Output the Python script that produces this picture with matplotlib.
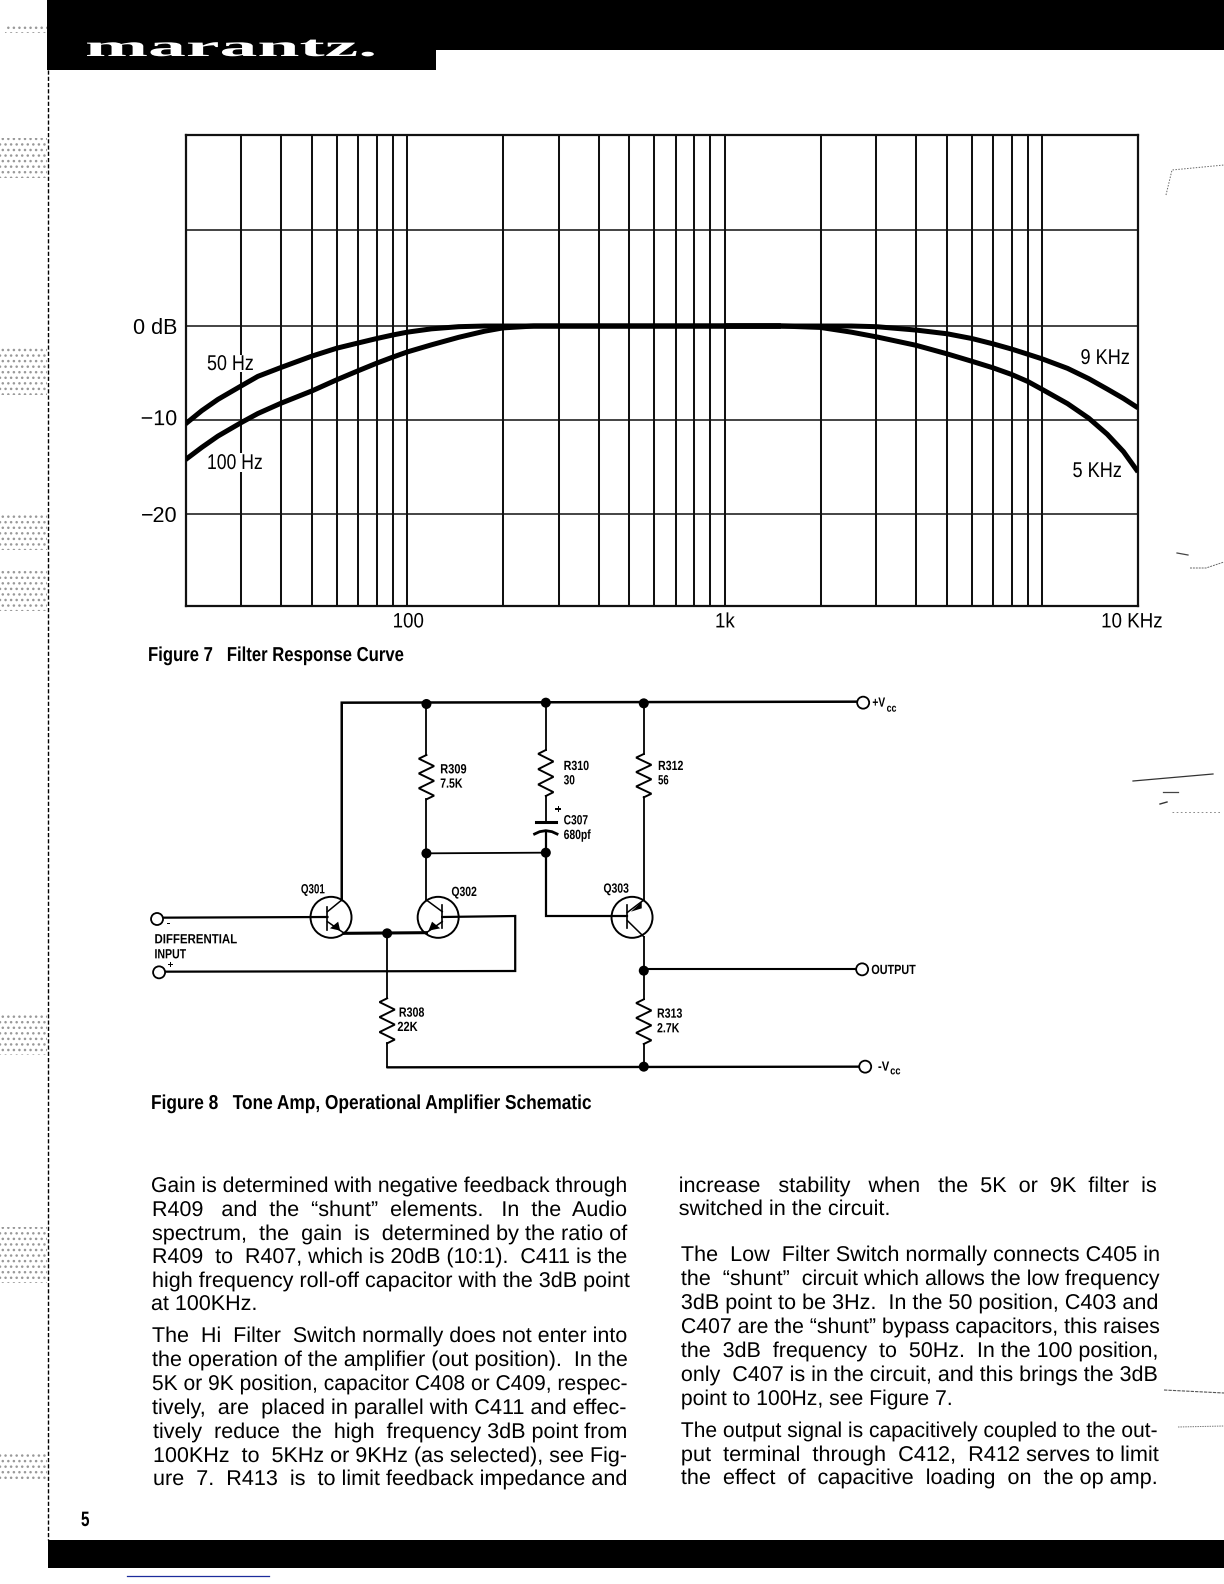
import matplotlib
matplotlib.use("Agg")
import matplotlib.pyplot as plt
from matplotlib.patches import Rectangle, Ellipse, Polygon
from matplotlib.patheffects import AbstractPathEffect
from matplotlib.transforms import Affine2D

W, H = 1224, 1584
BODY = "Liberation Sans"

# ---------- chart data ----------
freq_low = [20, 22.5, 25.3, 30, 33.8, 40, 50, 60, 70, 80, 90, 100, 119, 145, 175, 200, 250, 300, 500, 1000, 1500]
db_50hz = [-10.4, -9.0, -7.8, -6.35, -5.35, -4.4, -3.2, -2.35, -1.8, -1.33, -0.95, -0.65, -0.3, -0.07, 0, 0, 0, 0, 0, 0, 0]
db_100hz = [-14.2, -12.9, -11.7, -10.25, -9.3, -8.2, -6.9, -5.7, -4.75, -3.95, -3.3, -2.75, -2.0, -1.2, -0.55, -0.2, 0, 0, 0, 0, 0]

freq_high = [1000, 1500, 2000, 2500, 3000, 4000, 5000, 6000, 7000, 8000, 9000, 10000, 12000, 14000, 16000, 18000, 20000]
db_9khz = [0, 0, 0, 0, -0.07, -0.43, -0.82, -1.33, -1.9, -2.45, -3.0, -3.5, -4.5, -5.6, -6.7, -7.7, -8.7]
db_5khz = [0, 0, -0.15, -0.65, -1.15, -2.05, -2.95, -3.75, -4.45, -5.15, -5.9, -6.75, -8.25, -9.8, -11.5, -13.35, -15.5]

grid_freqs = [30, 40, 50, 60, 70, 80, 90, 100, 200, 300, 400, 500, 600, 700, 800, 900,
              1000, 2000, 3000, 4000, 5000, 6000, 7000, 8000, 9000, 10000]
grid_db = [-20, -10, 0, 10.2]
y_tick_values = [0, -10, -20]
y_tick_labels = ["0 dB", "\u221210", "\u221220"]
x_tick_values = [100, 1000, 20000]
x_tick_labels = ["100", "1k", "10 KHz"]

left_col = [
    ("Gain is determined with negative feedback through", 62, 1472, 1192),
    ("R409 and the \u201cshunt\u201d elements.   In the Audio", 65, 1473, 1216),
    ("spectrum, the gain is determined by the ratio of", 65, 1473, 1240),
    ("R409 to R407, which is 20dB (10:1).  C411 is the", 65, 1473, 1263),
    ("high frequency roll-off capacitor with the 3dB point", 65, 1480, 1287),
    ("at 100KHz.", 62, 378, 1310),
    ("The Hi Filter Switch normally does not enter into", 65, 1473, 1342),
    ("the operation of the amplifier (out position).  In the", 65, 1475, 1366),
    ("5K or 9K position, capacitor C408 or C409, respec-", 65, 1473, 1390),
    ("tively, are placed in parallel with C411 and effec-", 65, 1470, 1414),
    ("tively reduce the high frequency 3dB point from", 68, 1473, 1438),
    ("100KHz to 5KHz or 9KHz (as selected), see Fig-", 68, 1473, 1462),
    ("ure 7.  R413 is to limit feedback impedance and", 68, 1473, 1485),
]
right_col = [
    ("increase stability when the 5K or 9K filter is", 52, 1383, 1192),
    ("switched in the circuit.", 52, 640, 1215),
    ("The Low Filter Switch normally connects C405 in", 58, 1390, 1261),
    ("the \u201cshunt\u201d circuit which allows the low frequency", 58, 1388, 1285),
    ("3dB point to be 3Hz.  In the 50 position, C403 and", 58, 1388, 1309),
    ("C407 are the \u201cshunt\u201d bypass capacitors, this raises", 58, 1390, 1333),
    ("the 3dB frequency to 50Hz.  In the 100 position,", 58, 1388, 1357),
    ("only C407 is in the circuit, and this brings the 3dB", 58, 1385, 1381),
    ("point to 100Hz, see Figure 7.", 58, 815, 1405),
    ("The output signal is capacitively coupled to the out-", 58, 1385, 1437),
    ("put terminal through C412, R412 serves to limit", 58, 1388, 1461),
    ("the effect of capacitive loading on the op amp.", 58, 1385, 1484),
]


class HStretch(AbstractPathEffect):
    def __init__(self, x0, sx, dx=0, dy=0):
        super().__init__()
        self.x0, self.sx, self.dx, self.dy = x0, sx, dx, dy

    def draw_path(self, renderer, gc, tpath, affine, rgbFace=None):
        stretched = affine + Affine2D().translate(-self.x0, 0).scale(self.sx, 1).translate(self.x0 + self.dx, self.dy)
        renderer.draw_path(gc, tpath, stretched, rgbFace)


# ---------- figure ----------
fig = plt.figure(figsize=(W / 100, H / 100), dpi=100, facecolor="white")
L, R, T, B = 185.5, 1138.0, 135.0, 605.5
ax = fig.add_axes([L / W, 1 - B / H, (R - L) / W, (B - T) / H])
ax.set_xscale("log")
ax.set_xlim(20, 20000)
ax.set_ylim(-29.7, 20.3)
ax.minorticks_off()
for f in grid_freqs:
    ax.axvline(f, color="#111111", lw=1.45, zorder=1)
for d in grid_db:
    ax.axhline(d, color="#111111", lw=1.1, zorder=1)
for s in ax.spines.values():
    s.set_linewidth(1.6)
    s.set_color("#111111")
curve_style = dict(color="black", lw=3.6, solid_capstyle="butt", solid_joinstyle="round", zorder=3)
ax.plot(freq_low, db_50hz, **curve_style)
ax.plot(freq_low, db_100hz, **curve_style)
ax.plot(freq_high, db_9khz, **curve_style)
ax.plot(freq_high, db_5khz, **curve_style)
ax.set_yticks(y_tick_values, y_tick_labels, family=BODY, fontsize=15.5)
ax.set_xticks(x_tick_values, x_tick_labels, family=BODY, fontsize=15)
ax.tick_params(axis="both", length=0)
ax.tick_params(axis="y", pad=6)
ax.tick_params(axis="x", pad=5)

tick_px = [ax.transData.transform((v, 0))[0] for v in x_tick_values]
for lab, px, off in zip(ax.get_xticklabels(), tick_px, [1, 0, -6]):
    lab.set_path_effects([HStretch(px, 0.9, dx=off)])
ax.get_yticklabels()[1].set_path_effects([HStretch(0, 1.0, dy=3)])

page = fig.add_axes([0, 0, 1, 1], zorder=5)
page.set_xlim(0, W)
page.set_ylim(H, 0)
page.axis("off")
page.patch.set_visible(False)
renderer = fig.canvas.get_renderer()


def label(s, x0, x1, base, size=15.4, weight="normal", color="black", family=BODY, z=6):
    t = page.text(x0, base, s, ha="left", va="baseline", fontsize=size, fontweight=weight,
                  color=color, family=family, zorder=z)
    w = t.get_window_extent(renderer).width
    t.set_path_effects([HStretch(x0, (x1 - x0) / w)])
    return t


def justified(s, x0, x1, base, size=15.4):
    """Widen the word gaps first, as the typeset page does, then fit the rest."""
    t = page.text(x0, base, s, ha="left", va="baseline", fontsize=size, color="black", family=BODY, zorder=6)
    words = s.split(" ")
    gaps = [i for i in range(len(words) - 1) if words[i] and words[i + 1]]
    k = 0
    while gaps:
        w = t.get_window_extent(renderer).width
        if w >= (x1 - x0) * 0.985:
            break
        i = gaps[k % len(gaps)]
        k += 1
        words[i] += " "
        t.set_text(" ".join(words))
    w = t.get_window_extent(renderer).width
    t.set_path_effects([HStretch(x0, (x1 - x0) / w)])
    return t


# ---------- page furniture ----------
page.add_patch(Rectangle((47, 0), W - 47, 49.5, color="black", lw=0, zorder=2))
page.add_patch(Rectangle((47, 0), 389, 70, color="black", lw=0, zorder=2))
page.add_patch(Rectangle((48, 1540), W - 48, 28, color="black", lw=0, zorder=2))
page.plot([127, 269], [1575.5, 1575.5], color="#1c2c9c", lw=0.9)
page.plot([47.5, 47.5], [70, 1540], color="black", lw=1.0, ls=(0, (3, 1.5)))
label("marantz.", 85, 377, 56, size=21, weight="bold", color="white", family="Liberation Serif", z=7)
label("5", 81, 89.5, 1526, size=15, weight="bold")

halftones = [(0, 138, 47, 40), (0, 348, 47, 47), (0, 515, 47, 35), (0, 570, 47, 41),
             (0, 1015, 47, 40), (0, 1227, 47, 56), (0, 1454, 47, 26), (5, 25, 42, 8)]
for (hx, hy, hw, hh) in halftones:
    page.add_patch(Rectangle((hx, hy), hw, hh, facecolor="none", edgecolor="#999999",
                             hatch="...", lw=0, zorder=1))

specks = [
    ([1166, 1172, 1224], [195, 170, 165], "#666666", 0.7, (0, (1.5, 1.5))),
    ([1177, 1188], [553, 555], "#444444", 0.9, "-"),
    ([1190, 1206, 1224], [568, 568, 562], "#666666", 0.7, (0, (2, 1))),
    ([1133, 1213], [781, 774], "#333333", 0.9, "-"),
    ([1163, 1178], [792, 792], "#444444", 0.9, "-"),
    ([1160, 1167], [804, 802], "#333333", 1.0, "-"),
    ([1172, 1220], [812, 812], "#777777", 0.6, (0, (2, 3))),
    ([1164, 1224], [1390, 1393], "#555555", 0.8, (0, (3, 1))),
    ([1178, 1224], [1427, 1426], "#777777", 0.7, (0, (1.5, 1))),
]
for sx_, sy_, sc, slw, sls in specks:
    page.plot(sx_, sy_, color=sc, lw=slw, ls=sls)

# ---------- chart annotations ----------
page.add_patch(Rectangle((237, 355), 6, 17, color="white", lw=0, zorder=5.5))
page.add_patch(Rectangle((237, 453), 6, 19, color="white", lw=0, zorder=5.5))
label("50 Hz", 207, 254, 370)
label("100 Hz", 207, 263, 469)
label("9 KHz", 1080.5, 1130, 364)
label("5 KHz", 1072.5, 1122, 477)
label("Figure 7   Filter Response Curve", 148, 404, 661, size=14.5, weight="bold")
label("Figure 8   Tone Amp, Operational Amplifier Schematic", 151, 591, 1109, size=14.5, weight="bold")

# ---------- body text ----------
for s, a, b, y in left_col:
    justified(s, 130 + a / 2.96, 130 + b / 2.96, y)
for s, a, b, y in right_col:
    justified(s, 660 + a / 2.78, 660 + b / 2.78, y)


# ---------- schematic (drawn in reference-crop units) ----------
def zx(x):
    return 130 + x / 1.96


def zy(y):
    return 680 + y / 3.0


def wire(pts, lw=1.3):
    page.plot([zx(p[0]) for p in pts], [zy(p[1]) for p in pts], color="black", lw=lw,
              solid_capstyle="projecting", solid_joinstyle="miter", zorder=4)


def resistor(x, y0, y1, n=6, amp=15):
    pts = [(x, y0)]
    step = (y1 - y0) / n
    for i in range(n):
        pts.append((x + (amp if i % 2 else -amp), y0 + step * (i + 0.5)))
    pts.append((x, y1))
    wire(pts, 1.4)


def dot(x, y, r=5):
    page.add_patch(Ellipse((zx(x), zy(y)), 2 * r, 2 * r, color="black", lw=0, zorder=4))


def ring(x, y, r=6):
    page.add_patch(Ellipse((zx(x), zy(y)), 2 * r, 2 * r, facecolor="white", edgecolor="black", lw=1.3, zorder=4.5))


def transistor(x, y):
    page.add_patch(Ellipse((zx(x), zy(y)), 41, 41, facecolor="none", edgecolor="black", lw=1.4, zorder=4))


def arrow(pts):
    page.add_patch(Polygon([(zx(a), zy(b)) for a, b in pts], closed=True, color="black", lw=0, zorder=4))


# rails and main wires
wire([(415, 660), (415, 68), (1430, 65)], 1.8)
wire([(581, 72), (581, 225)])
resistor(581, 225, 358)
wire([(581, 358), (581, 660)])
wire([(581, 520), (815, 518)])
wire([(815, 68), (815, 210)])
resistor(815, 210, 348)
wire([(815, 348), (815, 425)])
wire([(795, 425), (835, 425)], 2.2)
wire([(793, 462), (803, 455), (815, 452), (827, 455), (837, 462)], 2.0)
wire([(815, 455), (815, 708), (975, 708)], 1.6)
wire([(1007, 70), (1007, 222)])
resistor(1007, 222, 352)
wire([(1007, 352), (1007, 660)])
wire([(1007, 770), (1007, 958)])
resistor(1007, 958, 1092)
wire([(1007, 1092), (1007, 1160)])
wire([(1007, 868), (1425, 868)], 1.5)
wire([(505, 1162), (1430, 1160)], 1.7)
wire([(504, 760), (504, 955)])
resistor(504, 955, 1090)
wire([(504, 1090), (504, 1162)])
wire([(65, 713), (387, 711)], 1.6)
wire([(612, 711), (755, 708), (755, 873), (68, 875)], 1.6)
wire([(420, 760), (581, 758)], 2.2)

# transistors
transistor(394, 712)
wire([(387, 680), (387, 750)], 1.2)
wire([(387, 695), (415, 660)], 1.1)
wire([(387, 725), (420, 760)], 1.1)
arrow([(412, 752), (392, 745), (408, 725)])
transistor(604, 712)
wire([(612, 675), (612, 745)], 1.2)
wire([(612, 695), (581, 660)], 1.1)
wire([(612, 725), (581, 758)], 1.1)
arrow([(585, 752), (608, 745), (592, 725)])
transistor(984, 712)
wire([(975, 675), (975, 745)], 1.2)
wire([(975, 697), (1007, 660)], 1.1)
wire([(975, 722), (1007, 770)], 1.1)
arrow([(982, 695), (1003, 665), (1003, 685)])

for px, py in [(581, 72), (815, 68), (1007, 70), (581, 520), (815, 518), (504, 760), (1007, 872), (1007, 1160)]:
    dot(px, py)
for px, py in [(1437, 68), (53, 717), (57, 877), (1435, 868), (1441, 1160)]:
    ring(px, py)

# schematic labels: text, left, right, baseline
schem_labels = [
    ("Q301", 335, 382, 640), ("Q302", 630, 680, 648), ("Q303", 928, 978, 638),
    ("R309", 608, 660, 280), ("7.5K", 608, 652, 323),
    ("R310", 850, 900, 270), ("30", 850, 872, 313),
    ("R312", 1035, 1085, 270), ("56", 1035, 1056, 313),
    ("C307", 850, 898, 433), ("680pf", 850, 903, 477),
    ("R308", 527, 577, 1010), ("22K", 524, 564, 1053),
    ("R313", 1033, 1083, 1013), ("2.7K", 1033, 1077, 1057),
    ("DIFFERENTIAL", 48, 210, 790), ("INPUT", 48, 110, 835),
    ("OUTPUT", 1453, 1540, 882), ("+V", 1455, 1480, 80), ("-V", 1466, 1488, 1172),
]
for s, a, b, y in schem_labels:
    label(s, zx(a), zx(b), zy(y), size=9.6, weight="bold")
label("+", zx(833), zx(846), zy(398), size=8, weight="bold")
label("+", zx(73), zx(86), zy(864), size=7, weight="bold")
label("-", zx(72), zx(80), zy(738), size=7, weight="bold")
label("cc", zx(1483), zx(1502), zy(95), size=8, weight="bold")
label("cc", zx(1490), zx(1510), zy(1183), size=8, weight="bold")

fig.savefig("out.png", dpi=100)
